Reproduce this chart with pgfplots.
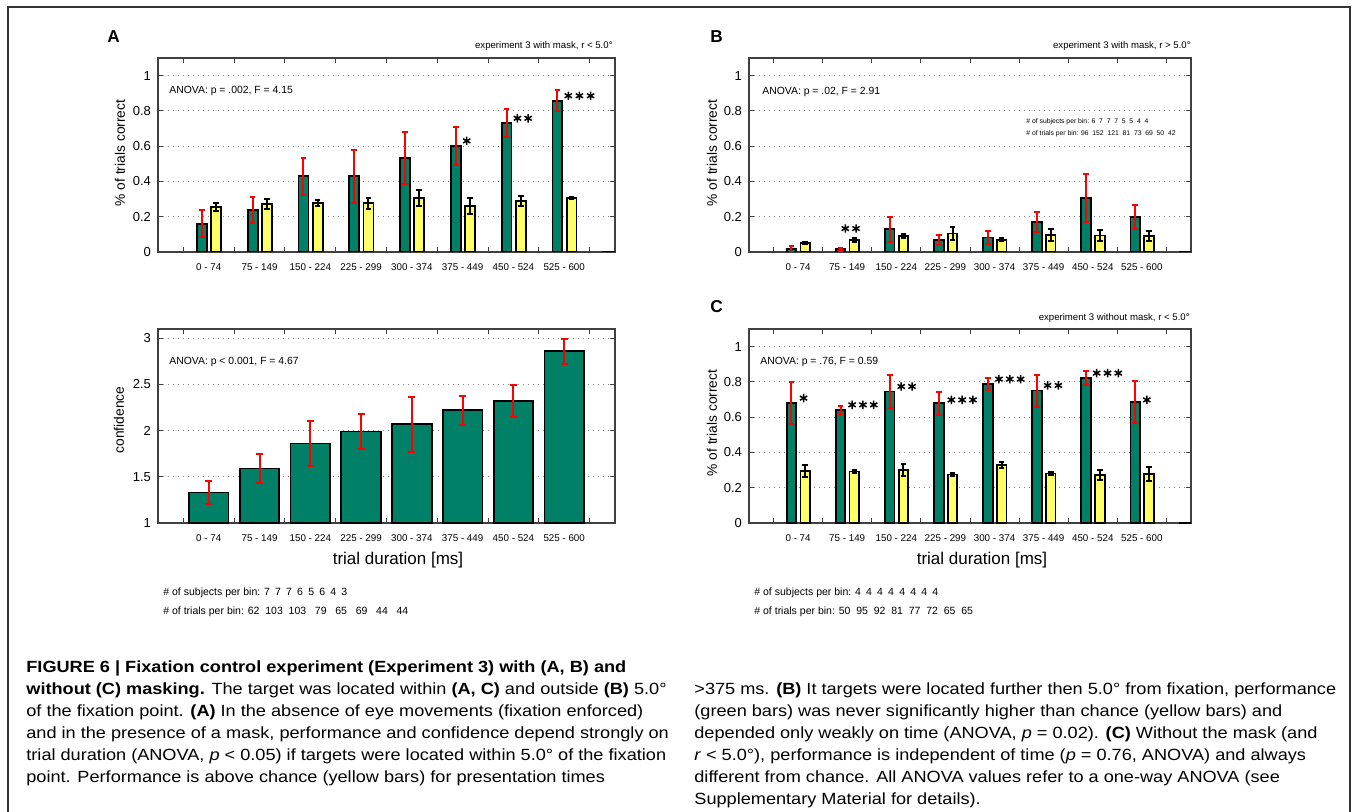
\documentclass[border=0pt]{standalone}
\usepackage{pgfplots}
\pgfplotsset{compat=1.18}
\usepackage{fontspec}
\setmainfont{Liberation Sans}
\newfontfamily\capfamily[FakeStretch=1.12]{Liberation Sans}

\definecolor{bargreen}{RGB}{0,128,102}
\definecolor{baryellow}{RGB}{255,255,102}

\newcommand\ns[1]{\makebox[1.05em][l]{#1}}
\newcommand\capfont{\capfamily\fontsize{8.1}{11}\selectfont}

\pgfplotsset{
  panel/.style={
    scale only axis, anchor=south west, height=97pt,
    xmin=0, xmax=9,
    xtick={0.5,1.5,...,8.5}, xticklabels={},
    extra x ticks={1,...,8},
    extra x tick labels={0 - 74,75 - 149,150 - 224,225 - 299,300 - 374,375 - 449,450 - 524,525 - 600},
    extra x tick style={major tick length=0pt},
    xticklabel style={font=\fontsize{4.9}{5}\selectfont, yshift=-2.5pt},
    yticklabel style={font=\fontsize{6.5}{7}\selectfont},
    /pgf/number format/assume math mode=true,
    tick align=inside, tick pos=both, major tick length=2.5pt,
    axis line style={black!75, line width=0.6pt},
    tick style={black!75, line width=0.5pt},
    ymajorgrids, grid style={black!45, line width=0.5pt, dash pattern=on 0.5pt off 2pt},
  },
  gbar/.style={ybar, bar shift=0pt, bar width=0.195, fill=bargreen, draw=black, line width=0.9pt,
    error bars/y dir=both, error bars/y explicit,
    error bars/error mark=-,
    error bars/error bar style={red, line width=1pt},
    error bars/error mark options={rotate=90, red, line width=1pt, mark size=1.4pt}},
  ybr/.style={ybar, bar shift=0pt, bar width=0.195, fill=baryellow, draw=black, line width=0.9pt,
    error bars/y dir=both, error bars/y explicit,
    error bars/error mark=-,
    error bars/error bar style={black, line width=1pt},
    error bars/error mark options={rotate=90, black, line width=1pt, mark size=1.4pt}},
  zerobar/.style={black, line width=1pt},
  sig/.style={only marks, mark=asterisk, mark size=2.1pt, black, mark options={line width=0.75pt}},
}

\begin{document}
\begin{tikzpicture}
\path[use as bounding box] (0,0) rectangle (677pt,-406pt);
\draw[black!80, line width=0.7pt] (4pt,-406pt) -- (4pt,-3.5pt) -- (675pt,-3.5pt) -- (675pt,-406pt);

% ---------- A: performance ----------
\begin{axis}[panel, at={(79pt,-126pt)}, width=228.5pt,
  ymin=0, ymax=1.1, ytick={0,0.2,0.4,0.6,0.8,1}]
\addplot[gbar] coordinates {
  (0.865,0.160) +- (0,0.076)
  (1.865,0.240) +- (0,0.074)
  (2.865,0.430) +- (0,0.105)
  (3.865,0.430) +- (0,0.150)
  (4.865,0.535) +- (0,0.147)
  (5.865,0.602) +- (0,0.108)
  (6.865,0.732) +- (0,0.080)
  (7.865,0.858) +- (0,0.058)
};
\addplot[ybr] coordinates {
  (1.145,0.257) +- (0,0.022)
  (2.145,0.272) +- (0,0.028)
  (3.145,0.276) +- (0,0.016)
  (4.145,0.276) +- (0,0.031)
  (5.145,0.307) +- (0,0.047)
  (6.145,0.261) +- (0,0.047)
  (7.145,0.290) +- (0,0.030)
  (8.145,0.305) +- (0,0.007)
};
\addplot[zerobar] coordinates {(8.75,0) (9,0)};
% significance stars
\addplot[sig] coordinates {
  (6.08,0.630)
  (7.08,0.758) (7.29,0.758)
  (8.08,0.886) (8.30,0.886) (8.52,0.886)
};
\end{axis}

% ---------- A: confidence ----------
\begin{axis}[panel, at={(79pt,-261.5pt)}, width=228.5pt,
  ymin=1, ymax=3.1, ytick={1,1.5,2,2.5,3}]
\addplot[gbar, bar width=0.78, error bars/error mark options={rotate=90, red, line width=1pt, mark size=1.7pt}] coordinates {
  (1,1.33) +- (0,0.128)
  (2,1.59) +- (0,0.152)
  (3,1.86) +- (0,0.244)
  (4,1.99) +- (0,0.190)
  (5,2.07) +- (0,0.297)
  (6,2.22) +- (0,0.158)
  (7,2.32) +- (0,0.172)
  (8,2.86) +- (0,0.137)
};
\end{axis}

% ---------- B ----------
\begin{axis}[panel, at={(374.5pt,-126pt)}, width=221pt,
  ymin=0, ymax=1.1, ytick={0,0.2,0.4,0.6,0.8,1}]
\addplot[gbar] coordinates {
  (0.865,0.017) +- (0,0.016)
  (1.865,0.015) +- (0,0.008)
  (2.865,0.130) +- (0,0.071)
  (3.865,0.069) +- (0,0.027)
  (4.865,0.082) +- (0,0.035)
  (5.865,0.170) +- (0,0.057)
  (6.865,0.307) +- (0,0.136)
  (7.865,0.198) +- (0,0.067)
};
\addplot[ybr] coordinates {
  (1.145,0.053) +- (0,0.006)
  (2.145,0.067) +- (0,0.012)
  (3.145,0.091) +- (0,0.012)
  (4.145,0.105) +- (0,0.036)
  (5.145,0.069) +- (0,0.009)
  (6.145,0.095) +- (0,0.033)
  (7.145,0.093) +- (0,0.031)
  (8.145,0.091) +- (0,0.027)
};
\addplot[zerobar] coordinates {(8.75,0) (9,0)};
\addplot[sig] coordinates {(1.96,0.133) (2.18,0.133)};
\end{axis}

% ---------- C ----------
\begin{axis}[panel, at={(374.5pt,-261.5pt)}, width=221pt,
  ymin=0, ymax=1.1, ytick={0,0.2,0.4,0.6,0.8,1}]
\addplot[gbar] coordinates {
  (0.865,0.679) +- (0,0.118)
  (1.865,0.641) +- (0,0.024)
  (2.865,0.746) +- (0,0.093)
  (3.865,0.679) +- (0,0.064)
  (4.865,0.789) +- (0,0.035)
  (5.865,0.751) +- (0,0.091)
  (6.865,0.824) +- (0,0.039)
  (7.865,0.685) +- (0,0.120)
};
\addplot[ybr] coordinates {
  (1.145,0.296) +- (0,0.033)
  (2.145,0.292) +- (0,0.006)
  (3.145,0.300) +- (0,0.032)
  (4.145,0.275) +- (0,0.010)
  (5.145,0.328) +- (0,0.017)
  (6.145,0.281) +- (0,0.008)
  (7.145,0.271) +- (0,0.030)
  (8.145,0.277) +- (0,0.039)
};
\addplot[zerobar] coordinates {(8.75,0) (9,0)};
\addplot[sig] coordinates {
  (1.11,0.708)
  (2.10,0.670) (2.32,0.670) (2.54,0.670)
  (3.10,0.774) (3.32,0.774)
  (4.12,0.698) (4.34,0.698) (4.56,0.698)
  (5.09,0.816) (5.31,0.816) (5.53,0.816)
  (6.08,0.780) (6.30,0.780)
  (7.08,0.850) (7.30,0.850) (7.52,0.850)
  (8.10,0.698)
};
\end{axis}

% ---------- panel texts ----------
\begin{scope}[every node/.style={inner sep=0}]
\node[anchor=west, font=\bfseries\fontsize{8.6}{9}\selectfont] at (53.5pt,-18.5pt) {A};
\node[anchor=west, font=\bfseries\fontsize{8.6}{9}\selectfont] at (355pt,-18.5pt) {B};
\node[anchor=west, font=\bfseries\fontsize{8.6}{9}\selectfont] at (355pt,-153.5pt) {C};

\node[anchor=east, font=\fontsize{4.8}{5}\selectfont] at (306.5pt,-23pt) {experiment 3 with mask, r < 5.0°};
\node[anchor=east, font=\fontsize{4.8}{5}\selectfont] at (595.5pt,-23pt) {experiment 3 with mask, r > 5.0°};
\node[anchor=east, font=\fontsize{4.8}{5}\selectfont] at (595pt,-159pt) {experiment 3 without mask, r < 5.0°};

\node[anchor=west, font=\fontsize{5.2}{6}\selectfont] at (84.5pt,-45.5pt) {ANOVA: p = .002, F = 4.15};
\node[anchor=west, font=\fontsize{5.2}{6}\selectfont] at (381pt,-46pt) {ANOVA: p = .02, F = 2.91};
\node[anchor=west, font=\fontsize{5.2}{6}\selectfont] at (84.5pt,-181pt) {ANOVA: p < 0.001, F = 4.67};
\node[anchor=west, font=\fontsize{5.2}{6}\selectfont] at (380pt,-181pt) {ANOVA: p = .76, F = 0.59};

\node[rotate=90, font=\fontsize{6.9}{8}\selectfont] at (60pt,-76.5pt) {\% of trials correct};
\node[rotate=90, font=\fontsize{6.9}{8}\selectfont] at (356pt,-76.5pt) {\% of trials correct};
\node[rotate=90, font=\fontsize{6.9}{8}\selectfont] at (59.5pt,-210pt) {confidence};
\node[rotate=90, font=\fontsize{6.9}{8}\selectfont] at (356pt,-211.5pt) {\% of trials correct};

\node[font=\fontsize{8.5}{9}\selectfont] at (199pt,-280pt) {trial duration [ms]};
\node[font=\fontsize{8.5}{9}\selectfont] at (491pt,-280pt) {trial duration [ms]};

\node[anchor=west, font=\fontsize{3.4}{4}\selectfont] at (513pt,-61pt) {\# of subjects per bin: 6~~7~~7~~7~~5~~5~~4~~4};
\node[anchor=west, font=\fontsize{3.4}{4}\selectfont] at (513pt,-67pt) {\# of trials per bin: 96~~152~~121~~81~~73~~69~~50~~42};

\node[anchor=west, font=\fontsize{5.25}{6}\selectfont] at (81.5pt,-296.5pt) {\# of subjects per bin: \ns7\ns7\ns7\ns6\ns5\ns6\ns4\ns3};
\node[anchor=west, font=\fontsize{5.25}{6}\selectfont] at (81.5pt,-306pt) {\# of trials per bin: 62~~103~~103~~~79~~~65~~~69~~~44~~~44};
\node[anchor=west, font=\fontsize{5.25}{6}\selectfont] at (377pt,-296.5pt) {\# of subjects per bin: \ns4\ns4\ns4\ns4\ns4\ns4\ns4\ns4};
\node[anchor=west, font=\fontsize{5.25}{6}\selectfont] at (377pt,-306pt) {\# of trials per bin: 50~~95~~92~~81~~77~~72~~65~~65};
\end{scope}

% ---------- caption ----------
\begin{scope}[every node/.style={inner sep=0, anchor=base west, font=\capfont}]
\node at (13pt,-336pt) {\textbf{FIGURE 6 | Fixation control experiment (Experiment 3) with (A, B) and}};
\node at (13pt,-347pt) {\textbf{without (C) masking.} The target was located within \textbf{(A, C)} and outside \textbf{(B)} 5.0°};
\node at (13pt,-358pt) {of the fixation point. \textbf{(A)} In the absence of eye movements (fixation enforced)};
\node at (13pt,-369pt) {and in the presence of a mask, performance and confidence depend strongly on};
\node at (13pt,-380pt) {trial duration (ANOVA, \textit{p} < 0.05) if targets were located within 5.0° of the fixation};
\node at (13pt,-391pt) {point. Performance is above chance (yellow bars) for presentation times};

\node at (347pt,-347pt) {>375 ms. \textbf{(B)} It targets were located further then 5.0° from fixation, performance};
\node at (347pt,-358pt) {(green bars) was never significantly higher than chance (yellow bars) and};
\node at (347pt,-369pt) {depended only weakly on time (ANOVA, \textit{p} = 0.02). \textbf{(C)} Without the mask (and};
\node at (347pt,-380pt) {\textit{r} < 5.0°), performance is independent of time (\textit{p} = 0.76, ANOVA) and always};
\node at (347pt,-391pt) {different from chance. All ANOVA values refer to a one-way ANOVA (see};
\node at (347pt,-402pt) {Supplementary Material for details).};
\end{scope}
\end{tikzpicture}
\end{document}
